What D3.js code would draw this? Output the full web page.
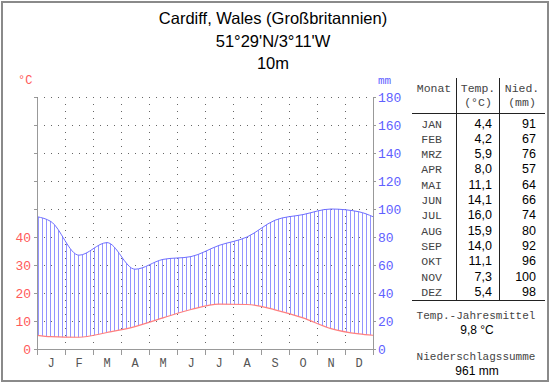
<!DOCTYPE html>
<html>
<head>
<meta charset="utf-8">
<script src="https://cdn.jsdelivr.net/npm/d3@7"></script>
<style>
  body { margin: 0; background: #fff; }
  svg { display: block; }
  .mono { font-family: "Liberation Mono", "DejaVu Sans Mono", monospace; }
  .sans { font-family: "Liberation Sans", Arial, sans-serif; }
</style>
</head>
<body>
<div id="chart"></div>
<script>
// Klimadaten Cardiff
const monthNames = ["JAN", "FEB", "MRZ", "APR", "MAI", "JUN", "JUL", "AUG", "SEP", "OKT", "NOV", "DEZ"];
const monthLetters = ["J", "F", "M", "A", "M", "J", "J", "A", "S", "O", "N", "D"];
const temps = [4.4, 4.2, 5.9, 8.0, 11.1, 14.1, 16.0, 15.9, 14.0, 11.1, 7.3, 5.4];
const precip = [91, 67, 76, 57, 64, 66, 74, 80, 92, 96, 100, 98];
const titleLines = ["Cardiff, Wales (Großbritannien)", "51°29'N/3°11'W", "10m"];
const tempTicks = [0, 10, 20, 30, 40];
const precipTicks = [0, 20, 40, 60, 80, 100, 120, 140, 160, 180];
const yearMean = "9,8 °C";
const yearSum = "961 mm";

const W = 550, H = 384;
const svg = d3.select("#chart").append("svg").attr("width", W).attr("height", H);

svg.append("rect").attr("x", 2).attr("y", 2).attr("width", W - 4).attr("height", H - 5)
  .attr("fill", "#fff").attr("stroke", "#8a8a8a").attr("stroke-width", 2);

// Titel
svg.selectAll(".title").data(titleLines).enter().append("text")
  .attr("class", "sans")
  .attr("x", 273).attr("y", (d, i) => 24 + i * 22.5)
  .attr("text-anchor", "middle").attr("font-size", 16.5).attr("fill", "#000")
  .text(d => d);

const x = d3.scaleLinear().domain([0, 12]).range([37, 373]);
const yP = d3.scaleLinear().domain([0, 180]).range([349, 97]);
const yT = d3.scaleLinear().domain([0, 90]).range([349, 97]);

const g = svg.append("g");

// Gitter
g.selectAll(".hgrid").data(precipTicks.filter(d => d > 0)).enter().append("line")
  .attr("x1", x(0)).attr("x2", x(12)).attr("y1", d => yP(d) + 0.5).attr("y2", d => yP(d) + 0.5)
  .attr("stroke", "#666").attr("stroke-dasharray", "1,6");
g.selectAll(".vgrid").data(d3.range(1, 12)).enter().append("line")
  .attr("x1", d => x(d) + 0.5).attr("x2", d => x(d) + 0.5).attr("y1", yP(180)).attr("y2", yP(0))
  .attr("stroke", "#666").attr("stroke-dasharray", "1,6");

// Kurven: Randwerte = Mittel aus Dez/Jan
const edgeT = (temps[0] + temps[11]) / 2;
const edgeP = (precip[0] + precip[11]) / 2;
const pts = [{ m: 0, t: edgeT, p: edgeP }]
  .concat(temps.map((t, i) => ({ m: i + 0.5, t: t, p: precip[i] })))
  .concat([{ m: 12, t: edgeT, p: edgeP }]);

const curve = d3.curveMonotoneX;
const area = d3.area().curve(curve).x(d => x(d.m)).y0(d => yT(d.t)).y1(d => yP(d.p));
svg.append("clipPath").attr("id", "humid").append("path").datum(pts).attr("d", area);

g.append("g").attr("clip-path", "url(#humid)")
  .selectAll("line").data(d3.range(38, 373, 4)).enter().append("line")
  .attr("x1", d => d + 0.5).attr("x2", d => d + 0.5).attr("y1", yP(180)).attr("y2", yP(0))
  .attr("stroke", "#9494ff").attr("stroke-width", 1);

g.append("path").datum(pts)
  .attr("d", d3.line().curve(curve).x(d => x(d.m)).y(d => yP(d.p)))
  .attr("fill", "none").attr("stroke", "#6f6fff").attr("stroke-width", 1);
g.append("path").datum(pts)
  .attr("d", d3.line().curve(curve).x(d => x(d.m)).y(d => yT(d.t)))
  .attr("fill", "none").attr("stroke", "#ff7f7f").attr("stroke-width", 1.2);

// Achsen
const left = g.append("g").attr("transform", `translate(${x(0)},0)`)
  .call(d3.axisLeft(yT).tickValues(d3.range(0, 91, 10)).tickSize(3).tickPadding(3)
    .tickFormat(d => tempTicks.includes(d) ? d : ""));
left.select(".domain").attr("stroke", "#999");
left.selectAll(".tick line").attr("stroke", "#999");
left.selectAll("text").attr("class", "mono").attr("font-size", 13).attr("fill", "#ff5a5a");

const right = g.append("g").attr("transform", `translate(${x(12)},0)`)
  .call(d3.axisRight(yP).tickValues(precipTicks).tickSize(3).tickPadding(2));
right.select(".domain").attr("stroke", "#999");
right.selectAll(".tick line").attr("stroke", "#999");
right.selectAll("text").attr("class", "mono").attr("font-size", 13).attr("fill", "#6060ff");

const bottom = g.append("g").attr("transform", `translate(0,${yP(0)})`)
  .call(d3.axisBottom(x).tickValues(d3.range(0, 13)).tickSize(6).tickSizeOuter(0).tickFormat(""));
bottom.select(".domain").attr("stroke", "#999");
bottom.selectAll(".tick line").attr("stroke", "#999");

g.selectAll(".mlabel").data(monthLetters).enter().append("text")
  .attr("class", "mono").attr("x", (d, i) => x(i + 0.5)).attr("y", 367)
  .attr("text-anchor", "middle").attr("font-size", 12).attr("fill", "#555").text(d => d);

svg.append("text").attr("class", "mono").attr("x", 18).attr("y", 84)
  .attr("font-size", 12).attr("fill", "#ff5a5a").text("°C");
svg.append("text").attr("class", "mono").attr("x", 378).attr("y", 84)
  .attr("font-size", 11).attr("fill", "#6060ff").text("mm");

// Tabelle
const tb = svg.append("g");
const rowY = i => 127.5 + i * 15.3;
tb.append("line").attr("x1", 412).attr("x2", 545).attr("y1", 113.5).attr("y2", 113.5).attr("stroke", "#222");
tb.append("line").attr("x1", 412).attr("x2", 545).attr("y1", 300.5).attr("y2", 300.5).attr("stroke", "#222");
[456.5, 499.5].forEach(v => tb.append("line").attr("x1", v).attr("x2", v).attr("y1", 78).attr("y2", 300)
  .attr("stroke", "#222"));

const hdr = [["Monat", 434, 92], ["Temp.", 478, 92], ["(°C)", 478, 106], ["Nied.", 522, 92], ["(mm)", 522, 106]];
tb.selectAll(".hdr").data(hdr).enter().append("text").attr("class", "mono")
  .attr("x", d => d[1]).attr("y", d => d[2]).attr("text-anchor", "middle")
  .attr("font-size", 11.5).attr("fill", "#444").text(d => d[0]);

tb.selectAll(".mn").data(monthNames).enter().append("text").attr("class", "mono")
  .attr("x", 442).attr("y", (d, i) => rowY(i)).attr("text-anchor", "end")
  .attr("font-size", 11.5).attr("fill", "#444").text(d => d);
tb.selectAll(".tv").data(temps).enter().append("text").attr("class", "sans")
  .attr("x", 492).attr("y", (d, i) => rowY(i)).attr("text-anchor", "end")
  .attr("font-size", 12.5).attr("fill", "#000").text(d => d.toFixed(1).replace(".", ","));
tb.selectAll(".pv").data(precip).enter().append("text").attr("class", "sans")
  .attr("x", 536).attr("y", (d, i) => rowY(i)).attr("text-anchor", "end")
  .attr("font-size", 12.5).attr("fill", "#000").text(d => d);

const footLabels = [["Temp.-Jahresmittel", 319], ["Niederschlagssumme", 360]];
const footValues = [[yearMean, 334], [yearSum, 375]];
tb.selectAll(".fl").data(footLabels).enter().append("text").attr("class", "mono")
  .attr("x", 476).attr("y", d => d[1]).attr("text-anchor", "middle")
  .attr("font-size", 11).attr("fill", "#444").text(d => d[0]);
tb.selectAll(".fv").data(footValues).enter().append("text").attr("class", "sans")
  .attr("x", 477).attr("y", d => d[1]).attr("text-anchor", "middle")
  .attr("font-size", 12).attr("fill", "#000").text(d => d[0]);
</script>
</body>
</html>
